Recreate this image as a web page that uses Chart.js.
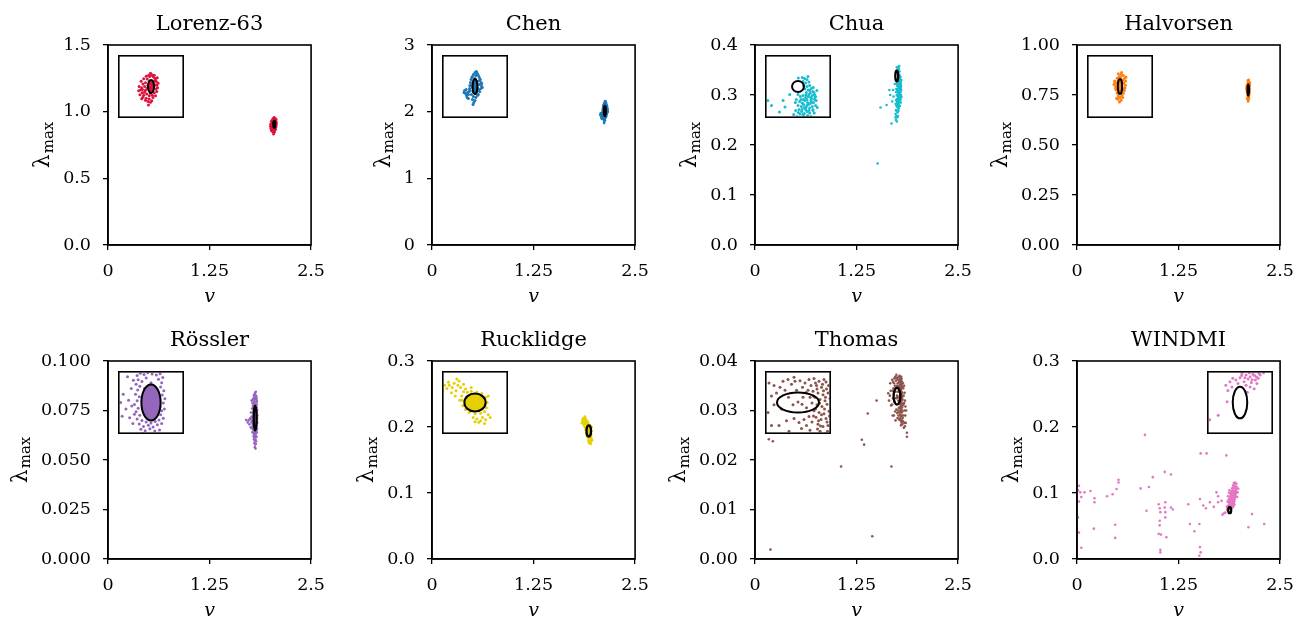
<!DOCTYPE html>
<html>
<head>
<meta charset="utf-8">
<script src="https://cdn.jsdelivr.net/npm/chart.js@4.4.1/dist/chart.umd.min.js"></script>
<style>
  body { margin: 0; background: #fff; }
  #fig { position: relative; width: 1311px; height: 621px; overflow: hidden; background: #fff; }
  #fig canvas { position: absolute; }
</style>
</head>
<body>
<div id="fig"></div>
<script>
// ---- data ----
const panelNames = ["Lorenz-63", "Chen", "Chua", "Halvorsen", "Rössler", "Rucklidge", "Thomas", "WINDMI"];
const panelColors = ["#dc143c", "#1f77b4", "#17becf", "#ff7f0e", "#9467bd", "#e6cf00", "#8c564b", "#e377c2"];

const xTicks = [0, 1.25, 2.5];
const xTickLabels = ["0", "1.25", "2.5"];

const yMaxes = [1.5, 3, 0.4, 1, 0.1, 0.3, 0.04, 0.3];
const yTicks = [
  [0, 0.5, 1.0, 1.5],
  [0, 1, 2, 3],
  [0, 0.1, 0.2, 0.3, 0.4],
  [0, 0.25, 0.5, 0.75, 1.0],
  [0, 0.025, 0.05, 0.075, 0.1],
  [0, 0.1, 0.2, 0.3],
  [0, 0.01, 0.02, 0.03, 0.04],
  [0, 0.1, 0.2, 0.3]
];
const yTickLabels = [
  ["0.0", "0.5", "1.0", "1.5"],
  ["0", "1", "2", "3"],
  ["0.0", "0.1", "0.2", "0.3", "0.4"],
  ["0.00", "0.25", "0.50", "0.75", "1.00"],
  ["0.000", "0.025", "0.050", "0.075", "0.100"],
  ["0.0", "0.1", "0.2", "0.3"],
  ["0.00", "0.01", "0.02", "0.03", "0.04"],
  ["0.0", "0.1", "0.2", "0.3"]
];

// ellipse centre (v, lambda) and half axes, and the half ranges of each zoom inset
const ellipseCenters = [[2.047, 0.905], [2.128, 2.01], [1.745, 0.338], [2.108, 0.775], [1.812, 0.0712], [1.93, 0.194], [1.748, 0.0329], [1.88, 0.074]];
const ellipseRadii = [[0.012, 0.026], [0.012, 0.075], [0.018, 0.011], [0.008, 0.0275], [0.018, 0.0062], [0.028, 0.0084], [0.042, 0.0017], [0.018, 0.0046]];
const insetHalfRanges = [[0.125, 0.12], [0.16, 0.3], [0.095, 0.06], [0.115, 0.11], [0.059, 0.0103], [0.083, 0.028], [0.063, 0.0051], [0.078, 0.0087]];

const lorenzPts = [
  [2.055,0.945],[2.062,0.938],[2.068,0.925],[2.070,0.910],[2.066,0.895],[2.060,0.880],[2.052,0.870],[2.040,0.868],
  [2.030,0.875],[2.025,0.890],[2.022,0.905],[2.025,0.920],[2.032,0.935],[2.042,0.945],[2.050,0.952],[2.038,0.950],
  [2.060,0.950],[2.072,0.940],[2.075,0.918],[2.073,0.900],[2.070,0.885],[2.015,0.915],[2.010,0.900],[2.005,0.891],
  [2.012,0.880],[2.018,0.870],[2.008,0.926],[2.000,0.905],[1.998,0.888],[2.003,0.872],[2.015,0.862],[2.028,0.858],
  [2.040,0.855],[2.055,0.861],[2.065,0.868],[2.035,0.845],[2.045,0.842],[2.025,0.850],[2.010,0.856],[2.050,0.848],
  [2.037,0.831],[2.045,0.958],[2.028,0.946],[2.018,0.936],[2.065,0.931],[2.058,0.926],[2.035,0.910],[2.058,0.905],
  [2.050,0.885],[2.040,0.925],[2.032,0.898],[2.055,0.920],[2.044,0.878],[2.062,0.912],[2.021,0.882],[2.013,0.893]
];
const chenPts = [
  [2.135,2.16],[2.128,2.15],[2.140,2.14],[2.120,2.13],[2.145,2.12],[2.150,2.10],[2.115,2.11],[2.155,2.08],
  [2.158,2.05],[2.160,2.02],[2.158,1.99],[2.152,1.96],[2.145,1.93],[2.108,2.08],[2.105,2.05],[2.102,2.02],
  [2.100,1.99],[2.098,1.96],[2.110,1.93],[2.120,1.91],[2.132,1.90],[2.140,1.92],[2.115,1.88],[2.128,1.87],
  [2.122,1.85],[2.118,1.83],[2.090,1.95],[2.085,1.92],[2.080,1.94],[2.075,1.97],[2.088,1.90],[2.095,1.93],
  [2.072,1.95],[2.083,1.98],[2.115,2.00],[2.140,2.00],[2.128,2.09],[2.120,2.06],[2.138,2.06],[2.118,1.96],
  [2.138,1.96],[2.148,2.03],[2.108,2.02],[2.130,1.94],[2.150,2.07],[2.112,2.10],[2.162,2.04],[2.165,2.00],
  [2.132,2.12],[2.147,1.98],[2.103,1.97],[2.094,1.89]
];
const chuaPts = [
  [1.758,0.356],[1.765,0.354],[1.772,0.352],[1.760,0.348],[1.768,0.345],[1.778,0.347],[1.762,0.340],[1.772,0.338],
  [1.780,0.340],[1.766,0.333],[1.776,0.331],[1.785,0.334],[1.770,0.326],[1.782,0.325],[1.790,0.328],[1.795,0.322],
  [1.745,0.322],[1.752,0.318],[1.760,0.320],[1.768,0.316],[1.776,0.318],[1.786,0.314],[1.795,0.312],[1.740,0.312],
  [1.750,0.308],[1.758,0.305],[1.766,0.310],[1.774,0.306],[1.782,0.304],[1.792,0.306],[1.745,0.300],[1.755,0.298],
  [1.764,0.296],[1.772,0.300],[1.780,0.295],[1.788,0.298],[1.737,0.306],[1.748,0.292],[1.738,0.290],[1.746,0.286],
  [1.756,0.288],[1.764,0.284],[1.772,0.288],[1.780,0.285],[1.732,0.282],[1.742,0.278],[1.752,0.276],[1.762,0.278],
  [1.770,0.274],[1.735,0.270],[1.745,0.267],[1.755,0.265],[1.765,0.268],[1.730,0.262],[1.740,0.258],[1.750,0.255],
  [1.760,0.258],[1.736,0.250],[1.746,0.247],[1.728,0.255],[1.746,0.355],[1.798,0.318],[1.802,0.330],[1.790,0.290],
  [1.778,0.322],[1.788,0.320],[1.772,0.312],[1.784,0.310],[1.796,0.316],[1.776,0.302],[1.786,0.306],[1.798,0.300],
  [1.768,0.292],[1.778,0.290],[1.790,0.292],[1.760,0.282],[1.774,0.280],[1.784,0.278],[1.794,0.285],[1.757,0.292],
  [1.762,0.302],[1.754,0.312],[1.769,0.321],[1.781,0.330],[1.791,0.336],[1.775,0.358],[1.800,0.310],[1.803,0.296],
  [1.766,0.272],[1.793,0.326],[1.783,0.316],[1.769,0.296],[1.761,0.312],[1.751,0.283],
  [1.545,0.275],[1.620,0.280],[1.510,0.163],[1.665,0.300],[1.700,0.310],[1.706,0.297],[1.689,0.287],[1.654,0.310],
  [1.720,0.322],[1.680,0.243]
];
const halvorsenPts = [
  [2.112,0.820],[2.120,0.815],[2.105,0.812],[2.125,0.805],[2.118,0.800],[2.098,0.805],[2.128,0.795],[2.090,0.790],
  [2.086,0.782],[2.092,0.775],[2.128,0.780],[2.126,0.770],[2.124,0.760],[2.094,0.762],[2.098,0.750],[2.120,0.750],
  [2.115,0.742],[2.102,0.740],[2.108,0.735],[2.100,0.728],[2.112,0.725],[2.106,0.718],[2.096,0.732],[2.118,0.735],
  [2.110,0.810],[2.116,0.790],[2.100,0.795],[2.122,0.788],[2.096,0.785],[2.120,0.765],[2.092,0.768],[2.110,0.755],
  [2.104,0.760],[2.088,0.795],[2.130,0.810],[2.114,0.826],[2.102,0.822]
];
const rosslerPts = [
  [1.786,0.0805],[1.792,0.0812],[1.799,0.0808],[1.806,0.0814],[1.814,0.0810],[1.822,0.0806],[1.829,0.0811],[1.834,0.0798],
  [1.788,0.0790],[1.795,0.0784],[1.803,0.0796],[1.826,0.0792],[1.832,0.0780],[1.784,0.0775],[1.791,0.0768],[1.830,0.0765],
  [1.836,0.0752],[1.787,0.0755],[1.783,0.0740],[1.790,0.0732],[1.833,0.0738],[1.828,0.0725],[1.786,0.0718],[1.781,0.0705],
  [1.835,0.0710],[1.829,0.0698],[1.788,0.0692],[1.784,0.0680],[1.832,0.0684],[1.791,0.0668],[1.786,0.0655],[1.830,0.0670],
  [1.835,0.0658],[1.795,0.0650],[1.803,0.0645],[1.812,0.0642],[1.820,0.0647],[1.827,0.0652],[1.790,0.0638],[1.798,0.0630],
  [1.807,0.0634],[1.816,0.0628],[1.824,0.0636],[1.832,0.0640],[1.793,0.0620],[1.801,0.0615],[1.810,0.0622],[1.819,0.0614],
  [1.828,0.0618],[1.797,0.0605],[1.806,0.0598],[1.815,0.0602],[1.823,0.0595],[1.802,0.0585],[1.812,0.0578],[1.820,0.0582],
  [1.808,0.0565],[1.816,0.0558],[1.795,0.0825],[1.805,0.0832],[1.815,0.0828],[1.810,0.0840],[1.820,0.0845],[1.825,0.0822],
  [1.800,0.0760],[1.812,0.0780],[1.822,0.0700],[1.805,0.0680],[1.818,0.0740],[1.775,0.0760],[1.770,0.0720],[1.765,0.0690],
  [1.772,0.0660],[1.760,0.0740],[1.778,0.0640],[1.768,0.0800],[1.758,0.0665],[1.776,0.0700],[1.755,0.0712],[1.745,0.0705],
  [1.730,0.0700],[1.700,0.0702],[1.720,0.0690],[1.740,0.0680],[1.779,0.0788],[1.781,0.0672],[1.838,0.0725],[1.837,0.0690]
];
const rucklidgePts = [
  [1.895,0.2000],[1.900,0.2040],[1.910,0.2035],[1.920,0.2045],[1.935,0.2035],[1.948,0.2025],[1.958,0.1990],[1.962,0.1940],
  [1.960,0.1890],[1.955,0.1855],[1.945,0.1840],[1.930,0.1835],[1.915,0.1850],[1.905,0.1875],[1.898,0.1910],[1.896,0.1960],
  [1.880,0.2050],[1.870,0.2080],[1.862,0.2100],[1.875,0.2120],[1.885,0.2100],[1.892,0.2080],[1.868,0.2030],[1.856,0.2070],
  [1.878,0.2000],[1.888,0.2140],[1.850,0.2100],[1.860,0.2130],[1.900,0.2110],[1.845,0.2055],[1.882,0.2160],[1.925,0.1800],
  [1.935,0.1785],[1.945,0.1770],[1.950,0.1800],[1.958,0.1780],[1.940,0.1755],[1.965,0.1825],[1.930,0.1760],[1.955,0.1745],
  [1.970,0.1800],[1.965,0.2000],[1.905,0.2065],[1.920,0.2080],[1.890,0.1960]
];
const thomasPts = [
  [1.780,0.0370],[1.790,0.0365],[1.800,0.0368],[1.785,0.0358],[1.795,0.0355],[1.805,0.0352],[1.778,0.0348],[1.788,0.0345],
  [1.798,0.0342],[1.808,0.0345],[1.782,0.0338],[1.792,0.0334],[1.802,0.0332],[1.812,0.0336],[1.776,0.0328],[1.786,0.0325],
  [1.796,0.0322],[1.806,0.0326],[1.816,0.0322],[1.780,0.0315],[1.790,0.0312],[1.800,0.0310],[1.810,0.0314],[1.784,0.0304],
  [1.794,0.0300],[1.804,0.0302],[1.814,0.0298],[1.788,0.0292],[1.798,0.0288],[1.808,0.0290],[1.818,0.0285],[1.792,0.0280],
  [1.802,0.0276],[1.812,0.0272],[1.822,0.0278],[1.825,0.0345],[1.830,0.0330],[1.835,0.0315],[1.840,0.0300],[1.845,0.0320],
  [1.828,0.0290],[1.838,0.0275],[1.850,0.0290],[1.832,0.0265],[1.845,0.0268],[1.860,0.0300],[1.855,0.0275],[1.870,0.0255],
  [1.820,0.0355],[1.835,0.0350],[1.740,0.0372],[1.752,0.0366],[1.762,0.0362],[1.770,0.0368],[1.735,0.0360],[1.757,0.0355],
  [1.768,0.0350],[1.745,0.0350],[1.772,0.0338],[1.765,0.0320],[1.770,0.0305],[1.760,0.0300],[1.750,0.0295],[1.740,0.0302],
  [1.765,0.0290],[1.755,0.0285],[1.772,0.0282],[1.748,0.0330],[1.758,0.0338],[1.738,0.0325],[1.690,0.0362],[1.700,0.0358],
  [1.712,0.0355],[1.722,0.0350],[1.705,0.0345],[1.695,0.0340],[1.718,0.0365],[1.728,0.0368],[1.700,0.0325],[1.715,0.0318],
  [1.710,0.0290],[1.725,0.0298],[1.695,0.0290],[1.730,0.0280],[1.688,0.0312],[1.670,0.0340],[1.660,0.0330],[1.650,0.0320],
  [1.675,0.0310],[1.640,0.0335],[1.665,0.0355],
  [1.783,0.0362],[1.797,0.0360],[1.809,0.0358],[1.779,0.0340],[1.803,0.0338],[1.813,0.0348],[1.791,0.0328],[1.801,0.0318],
  [1.811,0.0306],[1.783,0.0318],[1.795,0.0308],[1.789,0.0298],[1.807,0.0280],[1.797,0.0270],[1.787,0.0284],[1.776,0.0296],
  [1.779,0.0306],[1.806,0.0296],[1.816,0.0310],[1.786,0.0352],[1.774,0.0358],[1.764,0.0346],[1.756,0.0326],[1.729,0.0338],
  [1.742,0.0365],[1.819,0.0329],[1.799,0.0349],[1.793,0.0289],[1.804,0.0364],[1.826,0.0312],[1.842,0.0336],[1.852,0.0308],
  [1.497,0.0320],[1.388,0.0294],[1.315,0.0241],[1.343,0.0231],[1.060,0.0187],
  [1.680,0.0187],[1.444,0.0046],[0.190,0.0019],[0.170,0.0242],[0.220,0.0238],[1.870,0.0247]
];
const windmiPts = [
  [1.885,0.0825],[1.895,0.0820],[1.905,0.0815],[1.912,0.0822],[1.900,0.0808],[1.918,0.0805],[1.890,0.0800],[1.908,0.0798],
  [1.922,0.0795],[1.880,0.0812],[1.870,0.0805],[1.862,0.0810],[1.875,0.0795],[1.855,0.0800],[1.860,0.0785],[1.845,0.0790],
  [1.850,0.0775],[1.905,0.0785],[1.915,0.0780],[1.895,0.0790],[1.925,0.0810],[1.898,0.0770],[1.848,0.0742],[1.826,0.0703],
  [1.805,0.0690],[1.930,0.0820],[1.870,0.0852],[1.886,0.0861],[1.901,0.0854],[1.914,0.0849],[1.931,0.0846],[1.876,0.0882],
  [1.889,0.0893],[1.906,0.0884],[1.921,0.0879],[1.936,0.0874],[1.881,0.0912],[1.896,0.0921],[1.909,0.0913],[1.926,0.0911],
  [1.941,0.0904],[1.884,0.0942],[1.901,0.0951],[1.916,0.0946],[1.929,0.0939],[1.946,0.0936],[1.891,0.0972],[1.904,0.0981],
  [1.921,0.0974],[1.936,0.0971],[1.951,0.0964],[1.896,0.1002],[1.911,0.1009],[1.924,0.1006],[1.941,0.0998],[1.956,0.0996],
  [1.901,0.1031],[1.914,0.1042],[1.931,0.1034],[1.946,0.1029],[1.961,0.1026],[1.909,0.1072],[1.926,0.1081],[1.939,0.1074],
  [1.956,0.1061],[1.921,0.1112],[1.934,0.1121],[1.951,0.1101],[1.966,0.1092],[1.931,0.1152],[1.946,0.1158],[1.962,0.1141],
  [1.866,0.0901],[1.859,0.0951],[1.871,0.1002],[1.876,0.1041],[1.854,0.0869],[1.978,0.1010],[1.985,0.1065],[1.972,0.0940],
  [1.903,0.0826],[1.916,0.0818],[1.927,0.0824],[1.892,0.0812],[1.910,0.0806],[1.938,0.0826],[1.884,0.0818],[1.921,0.0814],
  [0.024,0.111],[0.012,0.104],[0.040,0.101],[0.053,0.094],[0.024,0.087],[0.093,0.101],[0.166,0.103],[0.215,0.092],
  [0.215,0.086],[0.207,0.046],[0.024,0.040],[0.053,0.017],[0.012,0.063],[0.370,0.095],[0.438,0.098],[0.487,0.106],
  [0.511,0.120],[0.511,0.116],[0.470,0.052],[0.470,0.032],[0.836,0.188],[0.783,0.107],[0.885,0.109],[0.856,0.073],
  [0.933,0.124],[1.080,0.132],[1.157,0.128],[1.006,0.083],[1.018,0.077],[1.026,0.071],[1.018,0.058],[1.018,0.051],
  [1.006,0.038],[1.034,0.037],[1.026,0.014],[1.026,0.010],[1.087,0.086],[1.080,0.078],[1.087,0.071],[1.087,0.063],
  [1.100,0.033],[1.157,0.078],[1.180,0.075],[1.370,0.083],[1.390,0.053],[1.445,0.042],[1.506,0.053],[1.522,0.160],
  [1.595,0.160],[1.514,0.091],[1.555,0.081],[1.587,0.077],[1.514,0.018],[1.506,0.005],[1.522,0.010],[1.636,0.086],
  [1.684,0.079],[1.717,0.101],[1.737,0.086],[1.838,0.157],[1.790,0.067],[2.155,0.068],[2.110,0.048],[2.305,0.053],
  [1.737,0.095],[1.780,0.088]
];
const panelPoints = [lorenzPts, chenPts, chuaPts, halvorsenPts, rosslerPts, rucklidgePts, thomasPts, windmiPts];

// ---- layout / style ----
const FONT = "'DejaVu Serif', 'Liberation Serif', serif";
const TICK_SIZE = 17.5;
const colLeft = [108, 432, 755, 1077];
const rowTop = [45, 361];
const rowH = [200, 198];
const PLOT_W = 206;
const PAD_L = 100, PAD_T = 45, PAD_R = 22, PAD_B = 75;
const INSET_W = 66, INSET_H = 63;
const insetOnRight = [false, false, false, false, false, false, false, true];
const ellipseFill = ["#dc143c", "#1f77b4", null, "#ff7f0e", "#9467bd", "#e6cf00", null, null];

Chart.defaults.font.family = FONT;
Chart.defaults.color = "#000";

const fig = document.getElementById("fig");

function mkCanvas(left, top, w, h, z) {
  const c = document.createElement("canvas");
  c.width = w; c.height = h;
  c.style.left = left + "px"; c.style.top = top + "px";
  c.style.width = w + "px"; c.style.height = h + "px";
  c.style.zIndex = z;
  fig.appendChild(c);
  return c;
}

function ellipsePlugin(i, lw) {
  return {
    id: "ellipse" + i,
    afterDatasetsDraw(chart) {
      const { ctx } = chart;
      const xs = chart.scales.x, ys = chart.scales.y;
      const [cx, cy] = ellipseCenters[i];
      const [rx, ry] = ellipseRadii[i];
      const px = xs.getPixelForValue(cx), py = ys.getPixelForValue(cy);
      const prx = Math.abs(xs.getPixelForValue(cx + rx) - px);
      const pry = Math.abs(ys.getPixelForValue(cy + ry) - py);
      ctx.save();
      ctx.beginPath();
      ctx.ellipse(px, py, prx, pry, 0, 0, Math.PI * 2);
      if (ellipseFill[i]) { ctx.fillStyle = ellipseFill[i]; ctx.fill(); }
      ctx.lineWidth = lw;
      ctx.strokeStyle = "#000";
      ctx.stroke();
      ctx.restore();
    }
  };
}

function framePlugin(i) {
  return {
    id: "frame" + i,
    afterDraw(chart) {
      const { ctx, chartArea: a } = chart;
      ctx.save();
      ctx.lineWidth = 1.6;
      ctx.strokeStyle = "#000";
      ctx.strokeRect(a.left, a.top, a.right - a.left, a.bottom - a.top);
      // title
      const midX = (a.left + a.right) / 2;
      ctx.fillStyle = "#000";
      ctx.textAlign = "center";
      ctx.textBaseline = "alphabetic";
      ctx.font = "21px " + FONT;
      ctx.fillText(panelNames[i], midX, a.top - 15);
      // x label
      ctx.font = "italic 19px " + FONT;
      ctx.textBaseline = "middle";
      ctx.fillText("v", midX, a.bottom + 52);
      // y label lambda_max
      ctx.font = TICK_SIZE + "px " + FONT;
      let w = 0;
      yTickLabels[i].forEach(t => { w = Math.max(w, ctx.measureText(t).width); });
      const lx = a.left - 5 - 12 - w - 21;
      const ly = (a.top + a.bottom) / 2;
      ctx.translate(lx, ly);
      ctx.rotate(-Math.PI / 2);
      ctx.textAlign = "left";
      ctx.textBaseline = "alphabetic";
      ctx.font = "22px " + FONT;
      const wl = ctx.measureText("λ").width;
      ctx.font = "15px " + FONT;
      const wm = ctx.measureText("max").width;
      const start = -(wl + wm + 1) / 2;
      ctx.font = "22px " + FONT;
      ctx.fillText("λ", start, 7);
      ctx.font = "15px " + FONT;
      ctx.fillText("max", start + wl + 1, 10.5);
      ctx.restore();
    }
  };
}

function insetBoxPlugin(i) {
  return {
    id: "insetBox" + i,
    beforeDraw(chart) {
      const { ctx } = chart;
      ctx.save();
      ctx.fillStyle = "#fff";
      ctx.fillRect(0, 0, chart.width, chart.height);
      ctx.restore();
    },
    afterDraw(chart) {
      const { ctx } = chart;
      ctx.save();
      ctx.lineWidth = 1.6;
      ctx.strokeStyle = "#000";
      ctx.strokeRect(0.8, 0.8, chart.width - 1.6, chart.height - 1.6);
      ctx.restore();
    }
  };
}

function toXY(pts) { return pts.map(p => ({ x: p[0], y: p[1] })); }

panelNames.forEach((name, i) => {
  const c = i % 4, r = Math.floor(i / 4);
  const W = PAD_L + PLOT_W + PAD_R;
  const H = PAD_T + rowH[r] + PAD_B;
  const canvas = mkCanvas(colLeft[c] - PAD_L, rowTop[r] - PAD_T, W, H, 1);

  new Chart(canvas, {
    type: "scatter",
    data: {
      datasets: [{
        data: toXY(panelPoints[i]),
        backgroundColor: panelColors[i],
        borderWidth: 0,
        pointRadius: 1.3,
        pointHoverRadius: 1.3
      }]
    },
    options: {
      responsive: false,
      animation: false,
      devicePixelRatio: 1,
      events: [],
      layout: { padding: { top: PAD_T, right: PAD_R, left: 0, bottom: 0 } },
      plugins: { legend: { display: false }, tooltip: { enabled: false }, title: { display: false } },
      scales: {
        x: {
          type: "linear", min: 0, max: 2.5,
          afterBuildTicks: ax => { ax.ticks = xTicks.map(v => ({ value: v })); },
          afterFit: ax => { ax.height = PAD_B; },
          ticks: {
            autoSkip: false, maxRotation: 0, padding: 11,
            font: { family: FONT, size: TICK_SIZE }, color: "#000",
            callback: (v, k) => xTickLabels[k]
          },
          grid: { display: true, drawOnChartArea: false, drawTicks: true, tickLength: 5, color: "#000", lineWidth: 1.3 },
          border: { display: true, color: "#000", width: 1.6 }
        },
        y: {
          type: "linear", min: 0, max: yMaxes[i],
          afterBuildTicks: ax => { ax.ticks = yTicks[i].map(v => ({ value: v })); },
          afterFit: ax => { ax.width = PAD_L; },
          ticks: {
            autoSkip: false, padding: 12,
            font: { family: FONT, size: TICK_SIZE }, color: "#000",
            callback: (v, k) => yTickLabels[i][k]
          },
          grid: { display: true, drawOnChartArea: false, drawTicks: true, tickLength: 5, color: "#000", lineWidth: 1.3 },
          border: { display: true, color: "#000", width: 1.6 }
        }
      }
    },
    plugins: [ellipsePlugin(i, 2.3), framePlugin(i)]
  });

  // zoom inset
  const inLeft = insetOnRight[i] ? colLeft[c] + PLOT_W - 10 - INSET_W : colLeft[c] + 10;
  const inTop = rowTop[r] + 10;
  const ic = mkCanvas(inLeft, inTop, INSET_W, INSET_H, 2);
  const [cx, cy] = ellipseCenters[i];
  const [hx, hy] = insetHalfRanges[i];
  new Chart(ic, {
    type: "scatter",
    data: {
      datasets: [{
        data: toXY(panelPoints[i]),
        backgroundColor: panelColors[i],
        borderWidth: 0,
        pointRadius: 1.5,
        pointHoverRadius: 1.5
      }]
    },
    options: {
      responsive: false,
      animation: false,
      devicePixelRatio: 1,
      events: [],
      layout: { padding: 0 },
      plugins: { legend: { display: false }, tooltip: { enabled: false } },
      scales: {
        x: { type: "linear", display: false, min: cx - hx, max: cx + hx },
        y: { type: "linear", display: false, min: cy - hy, max: cy + hy }
      }
    },
    plugins: [insetBoxPlugin(i), ellipsePlugin(i, 2)]
  });
});
</script>
</body>
</html>
